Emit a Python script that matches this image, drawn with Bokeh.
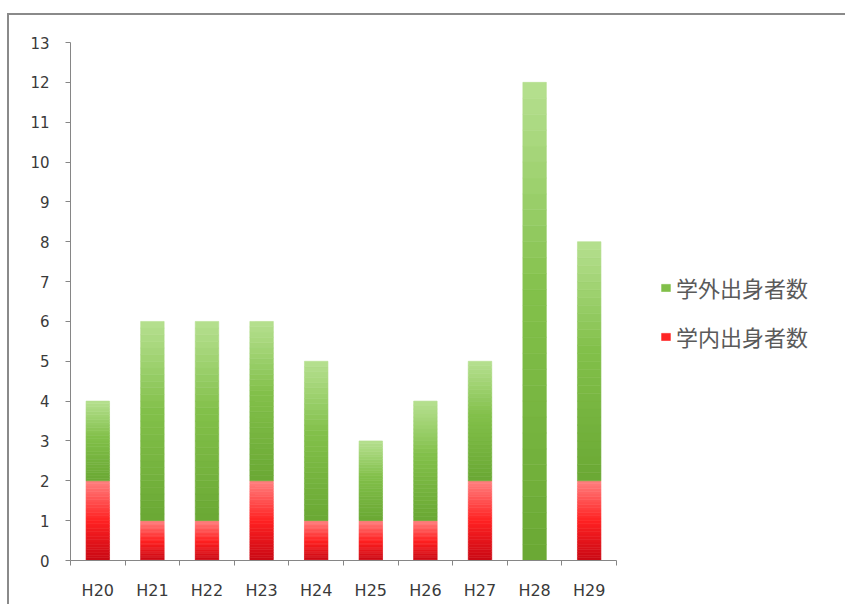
from bokeh.plotting import figure
from bokeh.models import (ColumnDataSource, FixedTicker, Legend, LegendItem, Range1d)
from bokeh.embed import file_html
from bokeh.resources import INLINE

categories = ["H20", "H21", "H22", "H23", "H24", "H25", "H26", "H27", "H28", "H29"]
internal = [2, 1, 1, 2, 1, 1, 1, 2, 0, 2]   # 学内出身者数
external = [2, 5, 5, 4, 4, 2, 3, 3, 12, 6]  # 学外出身者数
y_ticks = list(range(0, 14))

GREEN_STOPS = [(0.0, (0xb6, 0xe0, 0x90)), (0.45, (0x82, 0xc0, 0x4a)), (1.0, (0x6a, 0xa8, 0x34))]
RED_STOPS = [(0.0, (0xff, 0x80, 0x80)), (0.5, (0xff, 0x22, 0x22)), (1.0, (0xc8, 0x08, 0x14))]


def interp(stops, t):
    for (t0, c0), (t1, c1) in zip(stops[:-1], stops[1:]):
        if t <= t1:
            f = (t - t0) / (t1 - t0) if t1 > t0 else 0
            return "#%02x%02x%02x" % tuple(int(round(a + (b - a) * f)) for a, b in zip(c0, c1))
    return "#%02x%02x%02x" % stops[-1][1]


def slices(bottoms, heights, stops, n=30):
    xs, bs, ts, cs = [], [], [], []
    for i, (b, h) in enumerate(zip(bottoms, heights)):
        if h <= 0:
            continue
        for k in range(n):
            lo = b + h * k / n
            hi = b + h * (k + 1) / n
            t = 1 - (k + 0.5) / n  # 0 at top
            xs.append(i + 0.5)
            bs.append(lo)
            ts.append(hi)
            cs.append(interp(stops, t))
    return ColumnDataSource(dict(x=xs, bottom=bs, top=ts, color=cs))


p = figure(frame_width=546, frame_height=518, output_backend="svg", toolbar_location=None,
           x_range=Range1d(0, len(categories)), y_range=Range1d(0, 13),
           min_border_left=61, min_border_top=27, min_border_bottom=44, min_border_right=0)
p.styles = {"border-top": "2px solid #8a8a8a", "border-left": "2px solid #8a8a8a",
            "margin-top": "13px", "margin-left": "7px"}
p.outline_line_color = None
p.xgrid.grid_line_color = None
p.ygrid.grid_line_color = None
p.background_fill_color = "white"
p.border_fill_color = "white"

red_src = slices([0] * len(internal), internal, RED_STOPS)
green_src = slices(internal, external, GREEN_STOPS)

bw = 0.43
r_red = p.vbar(x="x", bottom="bottom", top="top", width=bw, source=red_src,
               fill_color="color", line_color="color", line_width=0.6)
r_green = p.vbar(x="x", bottom="bottom", top="top", width=bw, source=green_src,
                 fill_color="color", line_color="color", line_width=0.6)

# axes
xa = p.xaxis[0]
centers = [i + 0.5 for i in range(len(categories))]
xa.ticker = FixedTicker(ticks=centers, minor_ticks=list(range(len(categories) + 1)))
xa.major_label_overrides = {c: lab for c, lab in zip(centers, categories)}
xa.major_tick_out = 0
xa.major_tick_in = 0
xa.minor_tick_out = 5
xa.minor_tick_in = 0
xa.minor_tick_line_color = "#868686"
xa.axis_line_color = "#868686"
xa.major_label_standoff = 15
xa.major_label_text_font = "DejaVu Sans"
xa.major_label_text_font_size = "16px"
xa.major_label_text_color = "#3a3a3a"

ya = p.yaxis[0]
ya.ticker = FixedTicker(ticks=y_ticks)
ya.major_tick_out = 5
ya.major_tick_in = 0
ya.minor_tick_line_color = None
ya.major_tick_line_color = "#868686"
ya.axis_line_color = "#868686"
ya.major_label_standoff = 16
ya.major_label_text_font = "DejaVu Sans"
ya.major_label_text_font_size = "15px"
ya.major_label_text_color = "#3a3a3a"

n = 30
legend = Legend(items=[
    LegendItem(label="学外出身者数", renderers=[r_green], index=n // 2),
    LegendItem(label="学内出身者数", renderers=[r_red], index=n // 2),
], location=(44, 208))
legend.label_text_font = "Noto Sans CJK JP"
legend.label_text_font_size = "22px"
legend.label_text_color = "#5a5a5a"
legend.glyph_width = 11
legend.glyph_height = 9
legend.label_height = 24
legend.label_standoff = 5
legend.spacing = 17
legend.padding = 0
legend.margin = 0
legend.border_line_color = None
legend.background_fill_alpha = 0
p.add_layout(legend, "right")

open("out.html", "w").write(file_html(p, INLINE))
